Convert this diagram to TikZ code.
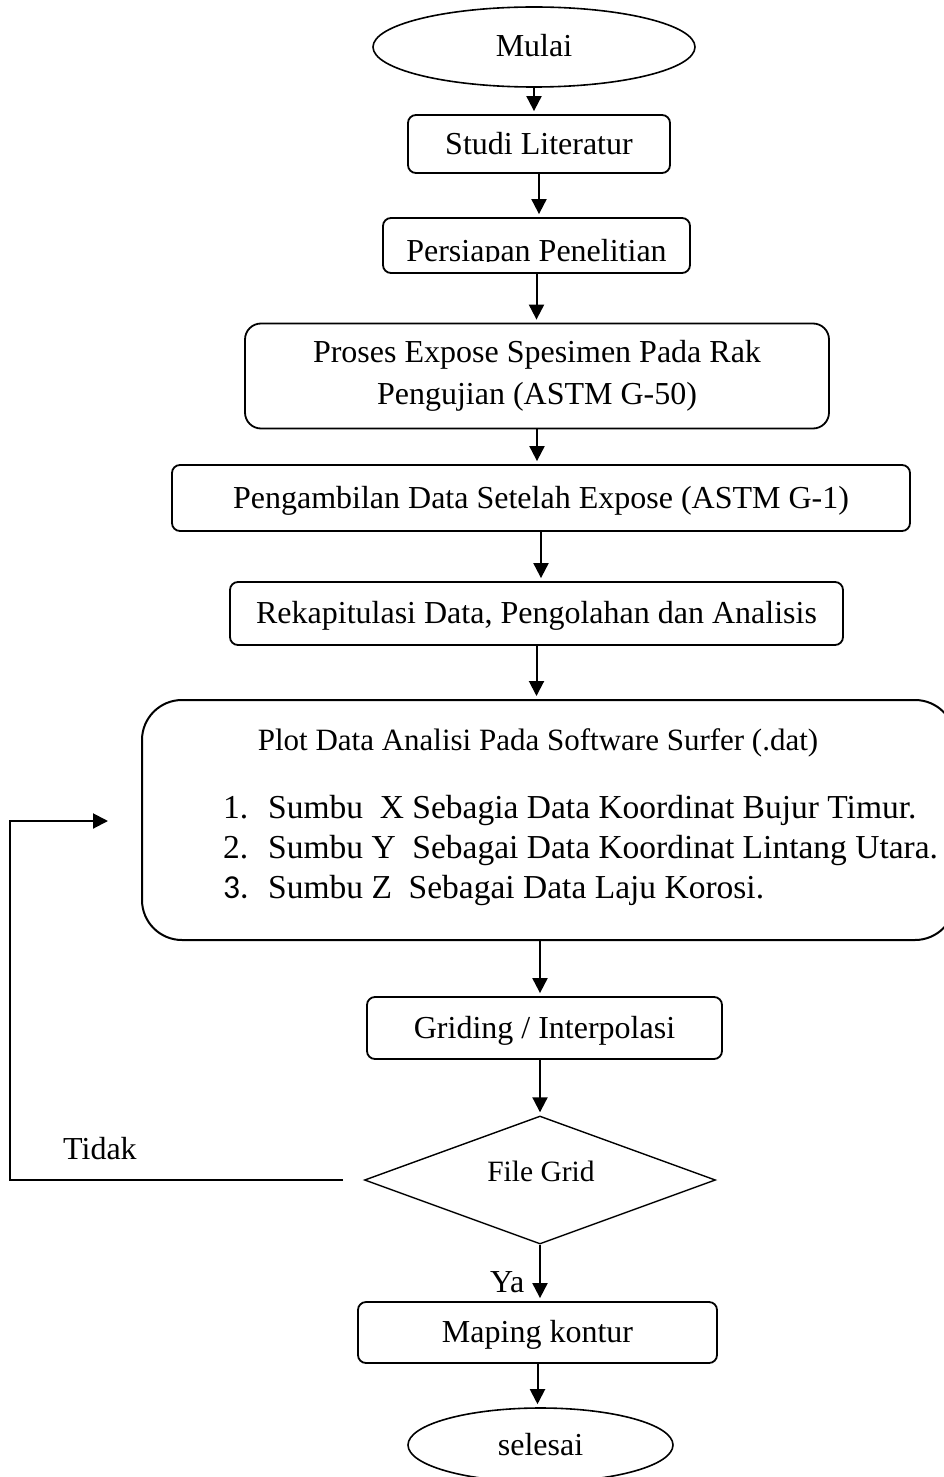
\documentclass[tikz,border=0pt]{standalone}
\usepackage{fontspec}
\setmainfont{Liberation Serif}
\newfontfamily\calfont{Carlito}
\usetikzlibrary{shapes.geometric,arrows.meta}
\begin{document}
\begin{tikzpicture}[x=1pt,y=-1pt,
  every node/.style={font=\fontsize{32}{42}\selectfont},
  boxbase/.style={draw, line width=1.8pt, rounded corners=8pt, inner sep=0pt},
  box/.style={boxbase, text height=22pt, text depth=2pt},
  term/.style={draw, ellipse, line width=1.6pt, inner sep=0pt, text height=22pt, text depth=2pt},
  txt/.style={inner sep=0pt},
  listtxt/.style={inner sep=0pt, anchor=base west, font=\fontsize{33.5}{40}\selectfont},
  arr/.style={line width=2pt, -{Triangle[length=15pt,width=15pt]}, shorten >=3pt},
]
\useasboundingbox (0,0) rectangle (943,1477);

% nodes
\node[term, minimum width=322pt, minimum height=80pt] (mulai) at (534,47) {Mulai};
\node[box, minimum width=262pt, minimum height=58pt] (studi) at (539,144) {Studi Literatur};
\node[boxbase, minimum width=307pt, minimum height=55pt] (persiapan) at (536.5,245.5) {};
\begin{scope}
  \clip (383,210) rectangle (690,261.5);
  \node[txt, anchor=base] at (536.5,261) {Persiapan Penelitian};
\end{scope}
\node[boxbase, rounded corners=16pt, align=center, minimum width=584pt, minimum height=105pt] (proses) at (537,376) {Proses Expose Spesimen Pada Rak\\Pengujian (ASTM G-50)};
\node[box, minimum width=738pt, minimum height=66pt] (ambil) at (541,498) {Pengambilan Data Setelah Expose (ASTM G-1)};
\node[box, minimum width=613pt, minimum height=63pt] (rekap) at (536.5,613.5) {Rekapitulasi Data, Pengolahan dan Analisis};
\node[boxbase, rounded corners=40pt, line width=2pt, minimum width=813pt, minimum height=240pt] (plot) at (548.5,820) {};
\node[txt, anchor=base, font=\fontsize{31}{40}\selectfont] at (538,750) {Plot Data Analisi Pada Software Surfer (.dat)};
\node[listtxt] at (223,818) {1.};
\node[listtxt] at (268,818) {Sumbu\ \ X Sebagia Data Koordinat Bujur Timur.};
\node[listtxt] at (223,858) {2.};
\node[listtxt] at (268,858) {Sumbu Y\ \ Sebagai Data Koordinat Lintang Utara.};
\node[listtxt] at (223,898) {\calfont 3.};
\node[listtxt] at (268,898) {Sumbu Z\ \ Sebagai Data Laju Korosi.};
\node[box, minimum width=355pt, minimum height=62pt] (griding) at (544.5,1028) {Griding / Interpolasi};
\node[draw, diamond, line width=1.4pt, inner sep=0pt, minimum width=351pt, minimum height=128pt] (dec) at (540,1180) {};
\node[txt, anchor=base, font=\fontsize{29.5}{34}\selectfont] at (541,1181) {File Grid};
\node[box, minimum width=359pt, minimum height=61pt] (maping) at (537.5,1332.5) {Maping kontur};
\node[term, minimum width=265pt, minimum height=74pt] (selesai) at (540.5,1445) {selesai};

\node[txt, anchor=base west] at (63,1159) {Tidak};
\node[txt, anchor=base west] at (490,1292) {Ya};

% connectors
\draw[arr] (mulai.south) -- (mulai.south |- studi.north);
\draw[arr] (studi.south) -- (studi.south |- persiapan.north);
\draw[arr] (persiapan.south) -- (persiapan.south |- proses.north);
\draw[arr] (proses.south) -- (proses.south |- ambil.north);
\draw[arr] (ambil.south) -- (ambil.south |- rekap.north);
\draw[arr] (rekap.south) -- (rekap.south |- plot.north);
\draw[arr] (dec.north |- plot.south) -- (dec.north |- griding.north);
\draw[arr] (dec.north |- griding.south) -- (dec.north);
\draw[arr] (dec.south) -- (dec.south |- maping.north);
\draw[arr] (maping.south) -- (maping.south |- selesai.north);

\coordinate (tstart) at (343,1180);
\coordinate (tend) at (108,821);
\draw[line width=2pt, -{Triangle[length=15pt,width=15pt]}] (tstart) -- (10,1180) |- (tend);
\end{tikzpicture}
\end{document}
